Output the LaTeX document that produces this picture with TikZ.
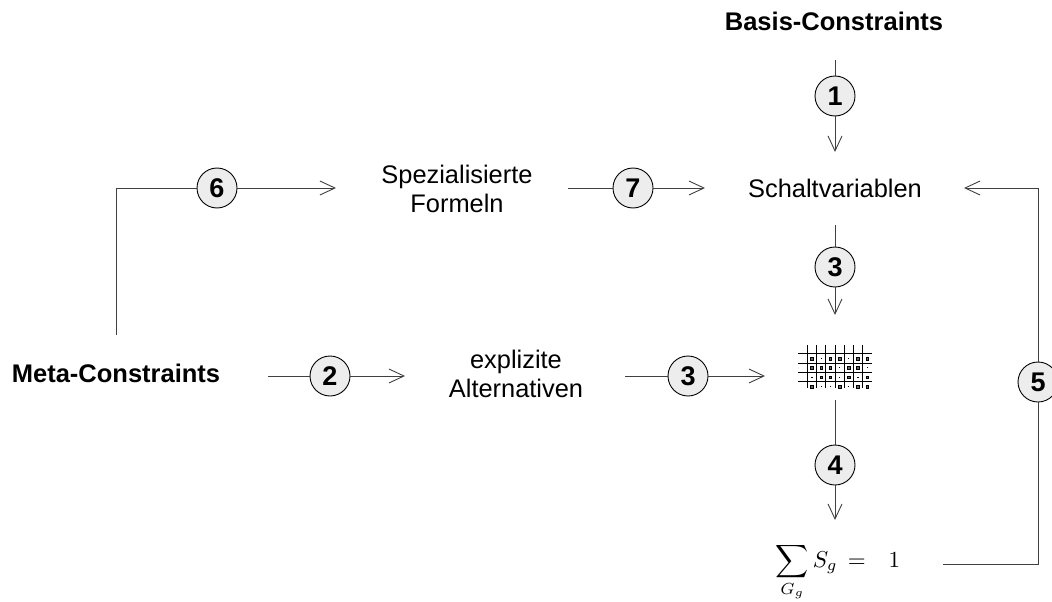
\documentclass[tikz,border=0pt]{standalone}
\usepackage{fontspec}
\setmainfont{Liberation Sans}
\usetikzlibrary{arrows.meta}
\begin{document}
\begin{tikzpicture}[x=1pt,y=-1pt,
 conn/.style={line width=0.9pt, draw=black!75},
 arr/.style={conn, -{Straight Barb[length=15pt,width=14pt,line width=0.9pt]}},
 num/.style={circle, draw=black, line width=0.9pt, fill=black!7, minimum size=40pt, inner sep=0pt, font=\fontsize{27}{27}\selectfont\bfseries},
 lbl/.style={font=\fontsize{25.4}{29}\selectfont, align=center, anchor=base, inner sep=0pt},
 head/.style={font=\fontsize{25.5}{29}\selectfont\bfseries, anchor=base, inner sep=0pt},
 gsq/.style={draw=black, fill=black!60, line width=0.35pt},
 gdot/.style={fill=black}]
\useasboundingbox (0,0) rectangle (1052,602);

% text nodes
\node[head] (basis) at (834,31) {Basis-Constraints};
\node[head] (meta) at (116,382) {Meta-Constraints};
\node[lbl] (schalt) at (835,197) {Schaltvariablen};
\node[lbl] (spez) at (457,212) {Spezialisierte\\Formeln};
\node[lbl] (expl) at (516,397) {explizite\\Alternativen};
\node[anchor=base, inner sep=0pt, scale=2.3] (sum) at (838,567) {$\displaystyle\sum_{G_g} S_g\mkern3mu=\mkern13mu 1$};

% grid icon (matrix of alternatives)
\begin{scope}
\foreach \i in {0,...,6} \draw[line width=0.5pt] ({807.3+9.2*\i},345) -- ({807.3+9.2*\i},388);
\foreach \j in {0,...,3} \draw[line width=0.5pt] (798,{353.3+9.45*\j}) -- (872,{353.3+9.45*\j});
\foreach \r/\row in {0/{1,0,1,1,0,1,1},1/{1,1,1,0,1,1,0},2/{0,1,1,0,1,0,1},3/{1,0,0,1,0,1,1}}{
  \foreach \v [count=\c from 0] in \row {
    \pgfmathsetmacro{\cx}{811.9+9.2*\c}
    \pgfmathsetmacro{\cy}{358.4+9.35*\r}
    \ifnum\v=1
      \draw[gsq] (\cx-1.3,\cy-1.3) rectangle (\cx+1.3,\cy+1.3);
    \else
      \fill[gdot] (\cx-0.6,\cy-0.6) rectangle (\cx+0.6,\cy+0.6);
    \fi
  }
}
\end{scope}

% circles
\node[num] (c1) at (835,96) {1};
\node[num] (c3a) at (835,267) {3};
\node[num] (c4) at (835,465) {4};
\node[num] (c5) at (1038,382) {5};
\node[num] (c2) at (330,376) {2};
\node[num] (c3b) at (688,376) {3};
\node[num] (c6) at (217,188) {6};
\node[num] (c7) at (633,188) {7};

% connector end points
\coordinate (s1) at (835,60);   \coordinate (e1) at (835,152);
\coordinate (s3a) at (835,225); \coordinate (e3a) at (835,315);
\coordinate (s4) at (835,400);  \coordinate (e4) at (835,520);
\coordinate (s5) at (943,564);  \coordinate (k5a) at (1038,564);
\coordinate (k5b) at (1038,188); \coordinate (e5) at (964,188);
\coordinate (s2) at (268,376);  \coordinate (e2) at (405,376);
\coordinate (s3b) at (625,376); \coordinate (e3b) at (765,376);
\coordinate (s6) at (116,335);  \coordinate (k6) at (116,188); \coordinate (e6) at (336,188);
\coordinate (s7) at (568,188);  \coordinate (e7) at (705,188);

% connectors
\draw[conn] (s1) -- (c1);   \draw[arr] (c1) -- (e1);
\draw[conn] (s3a) -- (c3a); \draw[arr] (c3a) -- (e3a);
\draw[conn] (s4) -- (c4);   \draw[arr] (c4) -- (e4);
\draw[conn] (s5) -- (k5a) -- (c5); \draw[arr] (c5) -- (k5b) -- (e5);
\draw[conn] (s2) -- (c2);   \draw[arr] (c2) -- (e2);
\draw[conn] (s3b) -- (c3b); \draw[arr] (c3b) -- (e3b);
\draw[conn] (s6) -- (k6) -- (c6); \draw[arr] (c6) -- (e6);
\draw[conn] (s7) -- (c7);   \draw[arr] (c7) -- (e7);
\end{tikzpicture}
\end{document}
